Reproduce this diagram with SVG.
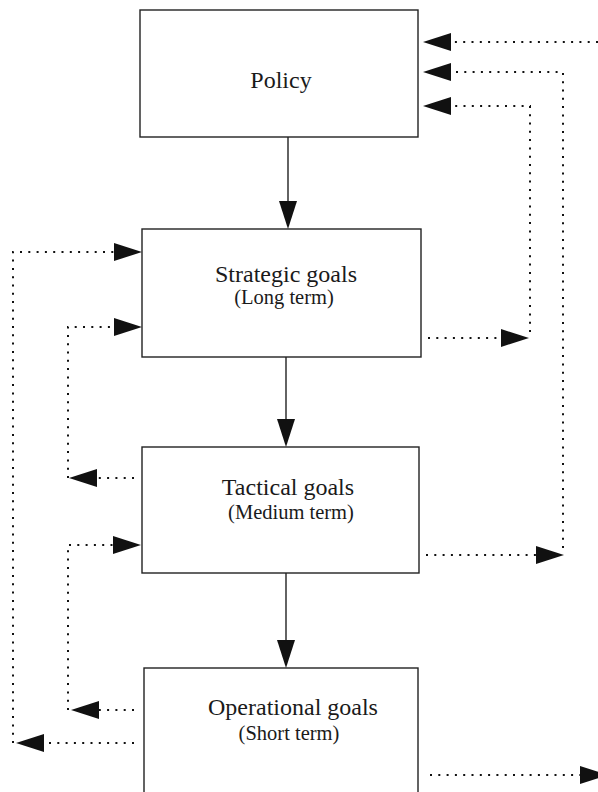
<svg xmlns="http://www.w3.org/2000/svg" width="598" height="792" viewBox="0 0 598 792">
  <style>
    .box { fill: #ffffff; stroke: #222222; stroke-width: 1.4; }
    .title { font-family: "Liberation Serif", "Times New Roman", serif; font-size: 24px; fill: #1a1a1a; text-anchor: middle; }
    .sub { font-family: "Liberation Serif", "Times New Roman", serif; font-size: 20.5px; fill: #1a1a1a; text-anchor: middle; }
    .solid { fill: none; stroke: #222222; stroke-width: 1.4; marker-end: url(#ah); }
    .dot { fill: none; stroke: #111111; stroke-width: 2; stroke-dasharray: 2 6.3; }
    .dotend { marker-end: url(#ah); }
  </style>
  <defs>
    <marker id="ah" markerUnits="userSpaceOnUse" markerWidth="28" markerHeight="18" viewBox="0 0 28 18" refX="0" refY="9" orient="auto">
      <path d="M0,0 L28,9 L0,18 z" fill="#111111"/>
    </marker>
  </defs>

  <rect width="598" height="792" fill="#ffffff"/>

  <g id="policy">
    <rect class="box" x="140" y="10" width="278" height="127"/>
    <text class="title" x="281" y="88">Policy</text>
  </g>

  <g id="strategic">
    <rect class="box" x="142" y="229" width="279" height="128"/>
    <text class="title" x="286" y="282">Strategic goals</text>
    <text class="sub" x="284" y="304">(Long term)</text>
  </g>

  <g id="tactical">
    <rect class="box" x="142" y="447" width="277" height="126"/>
    <text class="title" x="288" y="495">Tactical goals</text>
    <text class="sub" x="291" y="519">(Medium term)</text>
  </g>

  <g id="operational">
    <rect class="box" x="144" y="668" width="274" height="140"/>
    <text class="title" x="293" y="715">Operational goals</text>
    <text class="sub" x="289" y="740">(Short term)</text>
  </g>

  <g id="connectors">
    <!-- downward flow -->
    <path class="solid" d="M288,137 V201"/>
    <path class="solid" d="M286,357 V419"/>
    <path class="solid" d="M286,573 V640"/>

    <!-- feedback into policy -->
    <path class="dot dotend" d="M598,42 H451"/>
    <path class="dot dotend" d="M426,555 H536"/>
    <path class="dot dotend" d="M563,548 V72 H451"/>
    <path class="dot dotend" d="M428,338 H501"/>
    <path class="dot dotend" d="M530,332 V106 H451"/>

    <!-- left-hand loops -->
    <path class="dot dotend" d="M134,743 H44"/>
    <path class="dot dotend" d="M13,743 V252 H114"/>
    <path class="dot dotend" d="M134,710 H99"/>
    <path class="dot dotend" d="M68,710 V545 H113"/>
    <path class="dot dotend" d="M134,478 H97"/>
    <path class="dot dotend" d="M68,478 V327 H114"/>

    <!-- outgoing from operational -->
    <path class="dot dotend" d="M430,775 H580"/>
  </g>
</svg>
